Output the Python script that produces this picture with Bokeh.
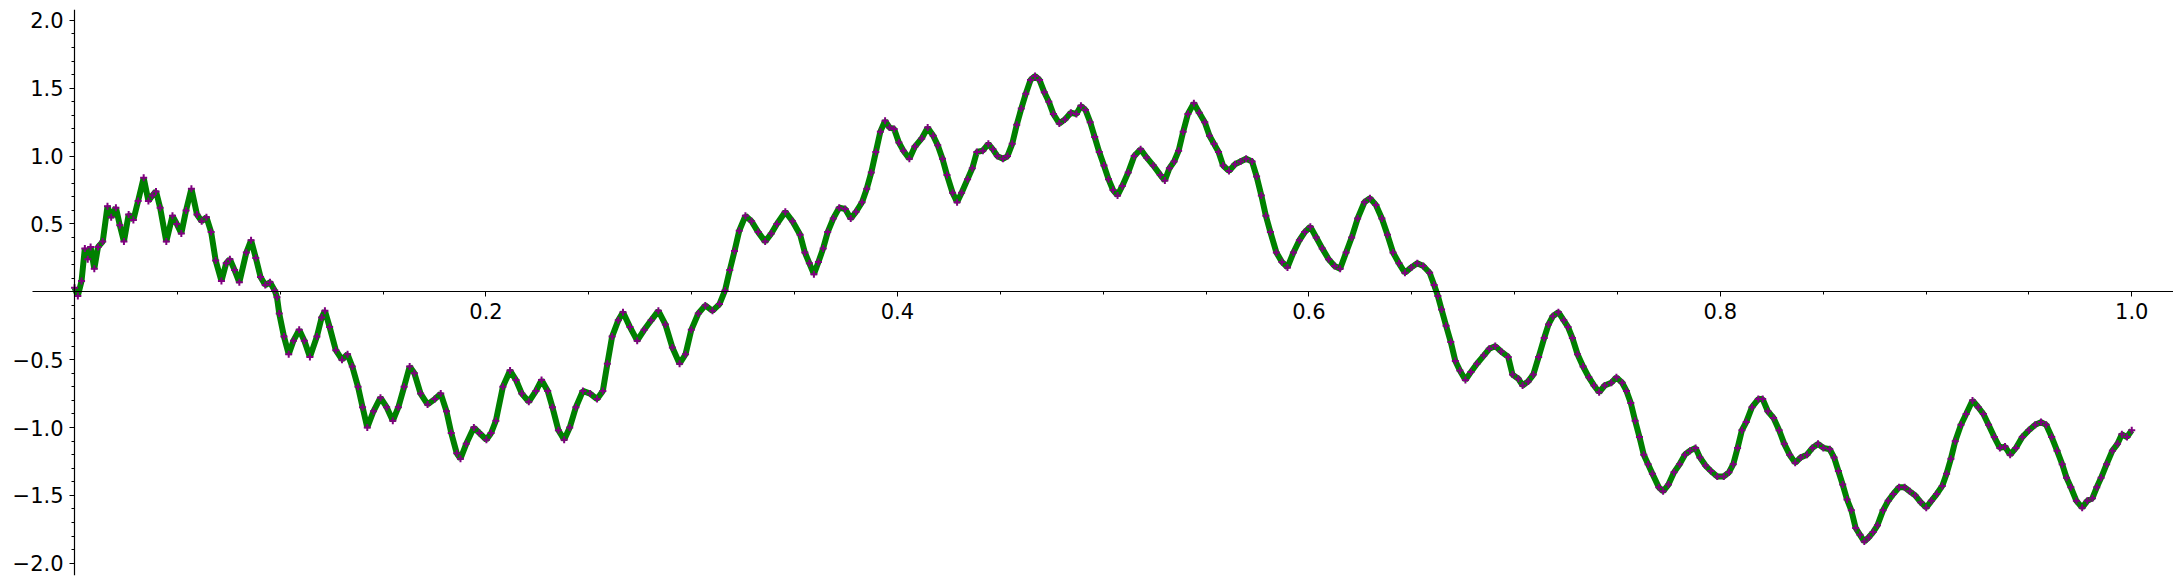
from bokeh.plotting import figure
from bokeh.models import FixedTicker
from bokeh.embed import file_html
from bokeh.resources import INLINE

# ---- data ----
x_vals = [
    0.0000, 0.0016, 0.0034, 0.0050, 0.0064, 0.0078, 0.0096, 0.0114, 0.0137, 0.0160,
    0.0178, 0.0201, 0.0220, 0.0240, 0.0263, 0.0286, 0.0309, 0.0336, 0.0359, 0.0378,
    0.0396, 0.0416, 0.0446, 0.0476, 0.0497, 0.0519, 0.0542, 0.0568, 0.0595, 0.0618,
    0.0641, 0.0664, 0.0686, 0.0714, 0.0737, 0.0755, 0.0778, 0.0801, 0.0835, 0.0858,
    0.0881, 0.0904, 0.0927, 0.0950, 0.0973, 0.0984, 0.0995, 0.1018, 0.1041, 0.1064,
    0.1092, 0.1117, 0.1144, 0.1178, 0.1201, 0.1217, 0.1240, 0.1270, 0.1300, 0.1327,
    0.1350, 0.1378, 0.1400, 0.1423, 0.1453, 0.1487, 0.1517, 0.1547, 0.1574, 0.1602,
    0.1629, 0.1652, 0.1682, 0.1716, 0.1751, 0.1780, 0.1808, 0.1831, 0.1858, 0.1876,
    0.1904, 0.1941, 0.1968, 0.2002, 0.2025, 0.2048, 0.2082, 0.2117, 0.2146, 0.2174,
    0.2208, 0.2243, 0.2270, 0.2300, 0.2323, 0.2352, 0.2380, 0.2407, 0.2437, 0.2471,
    0.2506, 0.2540, 0.2568, 0.2590, 0.2613, 0.2643, 0.2666, 0.2700, 0.2735, 0.2769,
    0.2803, 0.2838, 0.2872, 0.2906, 0.2941, 0.2970, 0.2998, 0.3032, 0.3066, 0.3101,
    0.3135, 0.3162, 0.3185, 0.3208, 0.3231, 0.3261, 0.3291, 0.3323, 0.3357, 0.3387,
    0.3414, 0.3455, 0.3490,
    0.3527, 0.3550, 0.3572, 0.3594, 0.3616, 0.3639, 0.3661, 0.3688, 0.3717, 0.3746,
    0.3773, 0.3799, 0.3828, 0.3851, 0.3873, 0.3895, 0.3917, 0.3940, 0.3962, 0.3984,
    0.4007, 0.4029, 0.4058, 0.4085, 0.4118, 0.4147, 0.4174, 0.4196, 0.4219, 0.4241,
    0.4268, 0.4290, 0.4312, 0.4341, 0.4364, 0.4386, 0.4415, 0.4442, 0.4464, 0.4486,
    0.4513, 0.4535, 0.4558, 0.4580, 0.4602, 0.4624, 0.4647, 0.4669, 0.4691, 0.4714,
    0.4736, 0.4758, 0.4787, 0.4814, 0.4843, 0.4870, 0.4892, 0.4914, 0.4937, 0.4959,
    0.4981, 0.5004, 0.5026, 0.5048, 0.5070, 0.5093, 0.5122, 0.5151, 0.5182, 0.5211,
    0.5244, 0.5278, 0.5300, 0.5322, 0.5345, 0.5367, 0.5389, 0.5412, 0.5441, 0.5467,
    0.5494, 0.5517, 0.5539, 0.5561, 0.5583, 0.5612, 0.5641, 0.5668, 0.5695, 0.5724,
    0.5746, 0.5769, 0.5791, 0.5813, 0.5842, 0.5869, 0.5896, 0.5925, 0.5954, 0.5980,
    0.6007, 0.6036, 0.6065, 0.6096, 0.6125, 0.6152, 0.6181, 0.6208, 0.6237, 0.6270,
    0.6297, 0.6326, 0.6355, 0.6382, 0.6409, 0.6438, 0.6467, 0.6498, 0.6527, 0.6556,
    0.6587, 0.6609, 0.6627, 0.6645, 0.6667, 0.6690, 0.6712, 0.6734, 0.6761, 0.6788,
    0.6817, 0.6850, 0.6877, 0.6906, 0.6935,
    0.6969, 0.6990, 0.7018, 0.7039, 0.7066, 0.7091, 0.7117, 0.7144, 0.7165, 0.7186,
    0.7213, 0.7239, 0.7260, 0.7281, 0.7306, 0.7333, 0.7361, 0.7386, 0.7411, 0.7438,
    0.7470, 0.7495, 0.7523, 0.7544, 0.7565, 0.7586, 0.7607, 0.7628, 0.7649, 0.7670,
    0.7701, 0.7722, 0.7748, 0.7775, 0.7802, 0.7828, 0.7853, 0.7880, 0.7901, 0.7928,
    0.7954, 0.7985, 0.8017, 0.8042, 0.8063, 0.8084, 0.8105, 0.8126, 0.8154, 0.8185,
    0.8206, 0.8231, 0.8259, 0.8286, 0.8311, 0.8337, 0.8364, 0.8391, 0.8421, 0.8448,
    0.8475, 0.8501, 0.8532, 0.8553, 0.8574, 0.8595, 0.8616, 0.8637, 0.8658, 0.8679,
    0.8700, 0.8721, 0.8743, 0.8764, 0.8791, 0.8816, 0.8841, 0.8869, 0.8896, 0.8921,
    0.8947, 0.8974, 0.9001, 0.9026, 0.9052, 0.9079, 0.9100, 0.9121, 0.9142, 0.9170,
    0.9195, 0.9226, 0.9254, 0.9279, 0.9304, 0.9332, 0.9359, 0.9384, 0.9409, 0.9437,
    0.9468, 0.9500, 0.9531, 0.9559, 0.9584, 0.9611, 0.9637, 0.9662, 0.9683, 0.9704,
    0.9731, 0.9759, 0.9784, 0.9809, 0.9830, 0.9851, 0.9878, 0.9906, 0.9931, 0.9952,
    0.9977, 1.0000,
]

y_vals = [
    0.03, -0.03, 0.08, 0.32, 0.24, 0.33, 0.17, 0.33, 0.37, 0.63,
    0.55, 0.62, 0.49, 0.37, 0.57, 0.53, 0.67, 0.84, 0.67, 0.71,
    0.74, 0.62, 0.37, 0.56, 0.50, 0.43, 0.60, 0.76, 0.57, 0.52,
    0.55, 0.44, 0.23, 0.08, 0.21, 0.24, 0.16, 0.07, 0.29, 0.38,
    0.25, 0.11, 0.05, 0.07, 0.01, -0.04, -0.16, -0.33, -0.46, -0.36,
    -0.28, -0.36, -0.48, -0.33, -0.19, -0.14, -0.26, -0.43, -0.50, -0.46,
    -0.55, -0.70, -0.85, -1.00, -0.88, -0.78, -0.85, -0.95, -0.85, -0.70,
    -0.55, -0.60, -0.75, -0.83, -0.79, -0.75, -0.88, -1.04, -1.19, -1.23,
    -1.12, -1.00, -1.04, -1.09, -1.04, -0.95, -0.70, -0.58, -0.65, -0.75,
    -0.81, -0.73, -0.65, -0.73, -0.85, -1.02, -1.09, -1.00, -0.85, -0.73,
    -0.75, -0.79, -0.73, -0.53, -0.33, -0.21, -0.15, -0.26, -0.36, -0.28,
    -0.21, -0.14, -0.24, -0.41, -0.53, -0.46, -0.28, -0.16, -0.10, -0.14,
    -0.09, 0.01, 0.16, 0.30, 0.45, 0.56, 0.52, 0.44, 0.37, 0.43,
    0.50, 0.59, 0.52,
    0.42, 0.29, 0.21, 0.13, 0.22, 0.32, 0.44, 0.54, 0.62, 0.61,
    0.54, 0.59, 0.66, 0.76, 0.88, 1.03, 1.18, 1.26, 1.21, 1.20,
    1.10, 1.04, 0.98, 1.07, 1.13, 1.21, 1.15, 1.08, 0.98, 0.86,
    0.73, 0.66, 0.73, 0.83, 0.91, 1.03, 1.04, 1.09, 1.05, 1.00,
    0.98, 1.00, 1.09, 1.23, 1.35, 1.46, 1.56, 1.59, 1.56, 1.47,
    1.40, 1.31, 1.24, 1.27, 1.32, 1.31, 1.37, 1.34, 1.25, 1.14,
    1.03, 0.93, 0.83, 0.75, 0.71, 0.78, 0.88, 1.00, 1.05, 0.99,
    0.93, 0.86, 0.82, 0.91, 0.96, 1.04, 1.18, 1.31, 1.39, 1.32,
    1.25, 1.15, 1.09, 1.03, 0.93, 0.89, 0.94, 0.96, 0.98, 0.96,
    0.85, 0.71, 0.56, 0.44, 0.29, 0.22, 0.18, 0.29, 0.38, 0.44,
    0.48, 0.40, 0.32, 0.24, 0.19, 0.17, 0.29, 0.40, 0.54, 0.66,
    0.69, 0.64, 0.54, 0.42, 0.29, 0.21, 0.14, 0.18, 0.21, 0.19,
    0.14, 0.05, -0.03, -0.13, -0.25, -0.37, -0.51, -0.58, -0.65, -0.59,
    -0.53, -0.47, -0.42, -0.40, -0.44,
    -0.48, -0.61, -0.64, -0.69, -0.66, -0.61, -0.48, -0.34, -0.24, -0.18,
    -0.15, -0.21, -0.26, -0.34, -0.46, -0.55, -0.63, -0.69, -0.74, -0.69,
    -0.67, -0.63, -0.67, -0.73, -0.82, -0.95, -1.07, -1.20, -1.27, -1.34,
    -1.44, -1.47, -1.42, -1.33, -1.27, -1.20, -1.17, -1.15, -1.22, -1.28,
    -1.32, -1.36, -1.36, -1.33, -1.27, -1.15, -1.02, -0.96, -0.85, -0.79,
    -0.79, -0.88, -0.93, -1.02, -1.12, -1.20, -1.26, -1.22, -1.20, -1.15,
    -1.12, -1.15, -1.16, -1.22, -1.32, -1.42, -1.53, -1.61, -1.74, -1.79,
    -1.84, -1.81, -1.77, -1.72, -1.61, -1.54, -1.49, -1.44, -1.44, -1.47,
    -1.50, -1.55, -1.59, -1.54, -1.49, -1.43, -1.34, -1.23, -1.10, -0.98,
    -0.90, -0.80, -0.85, -0.90, -0.98, -1.07, -1.15, -1.14, -1.20, -1.15,
    -1.07, -1.02, -0.98, -0.96, -0.98, -1.07, -1.17, -1.27, -1.37, -1.44,
    -1.54, -1.59, -1.54, -1.52, -1.44, -1.37, -1.27, -1.17, -1.12, -1.05,
    -1.07, -1.02,
]

x_major = [0.2, 0.4, 0.6, 0.8, 1.0]
x_minor = [0.05, 0.1, 0.15, 0.25, 0.3, 0.35, 0.45, 0.5, 0.55, 0.65, 0.7, 0.75, 0.85, 0.9, 0.95]
x_labels = ["0.2", "0.4", "0.6", "0.8", "1.0"]
y_major = [-2.0, -1.5, -1.0, -0.5, 0.5, 1.0, 1.5, 2.0]
y_minor = [-1.9, -1.8, -1.7, -1.6, -1.4, -1.3, -1.2, -1.1, -0.9, -0.8, -0.7, -0.6,
           -0.4, -0.3, -0.2, -0.1, 0.1, 0.2, 0.3, 0.4, 0.6, 0.7, 0.8, 0.9,
           1.1, 1.2, 1.3, 1.4, 1.6, 1.7, 1.8, 1.9]
y_labels = ["\u22122.0", "\u22121.5", "\u22121.0", "\u22120.5", "0.5", "1.0", "1.5", "2.0"]

# axis extents (where the axis lines stop)
x_axis_span = (-0.0204, 1.0201)
y_axis_span = (-2.09, 2.08)

p = figure(width=2173, height=579, x_range=(-0.0360, 1.0203), y_range=(-2.09, 2.08),
           output_backend="svg", toolbar_location=None,
           min_border_left=0, min_border_right=0, min_border_top=9, min_border_bottom=4)
p.grid.visible = False
p.outline_line_color = None
p.background_fill_color = "white"
p.border_fill_color = "white"

for ax in (p.xaxis[0], p.yaxis[0]):
    ax.fixed_location = 0
    ax.axis_line_color = "black"
    ax.axis_line_width = 1.2
    ax.major_tick_line_color = "black"
    ax.minor_tick_line_color = "black"
    ax.major_tick_out = 5
    ax.major_tick_in = 0
    ax.minor_tick_out = 3
    ax.minor_tick_in = 0
    ax.major_label_text_font = "DejaVu Sans"
    ax.major_label_text_font_size = "21px"
    ax.major_label_text_color = "black"

p.xaxis[0].bounds = x_axis_span
p.yaxis[0].bounds = y_axis_span
p.xaxis[0].ticker = FixedTicker(ticks=x_major, minor_ticks=x_minor)
p.yaxis[0].ticker = FixedTicker(ticks=y_major, minor_ticks=y_minor)
p.xaxis[0].major_label_overrides = {v: s for v, s in zip(x_major, x_labels)}
p.yaxis[0].major_label_overrides = {v: s for v, s in zip(y_major, y_labels)}
p.xaxis[0].major_label_standoff = 6
p.yaxis[0].major_label_standoff = 6

p.line(x_vals, y_vals, line_color="#008000", line_width=6)
p.scatter(x_vals, y_vals, marker="cross", size=7, line_color="#800080", line_width=2)

open("out.html", "w").write(file_html(p, INLINE))
